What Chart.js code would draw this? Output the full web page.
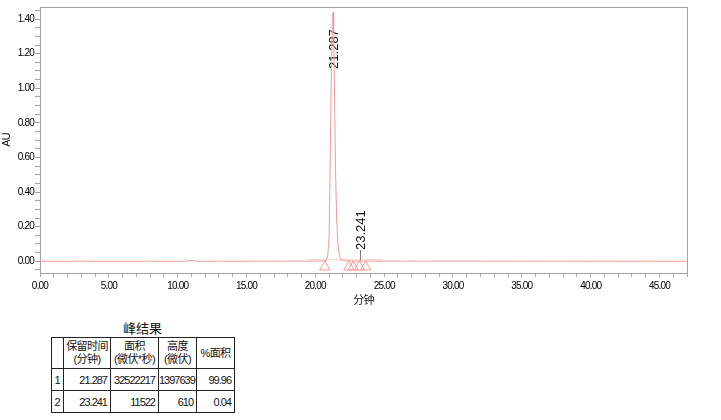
<!DOCTYPE html>
<html>
<head>
<meta charset="utf-8">
<script src="https://cdn.jsdelivr.net/npm/chart.js@4.4.1/dist/chart.umd.min.js"></script>
<style>
  body { margin: 0; background: #fff; }
  #wrap { position: relative; width: 721px; height: 420px; overflow: hidden; }
  #c { position: absolute; left: 0; top: 0; }
  #tblTitle {
    position: absolute; left: 51px; top: 321px; width: 183px; text-align: center;
    font: 13px 'Liberation Sans', 'Noto Sans CJK SC', sans-serif; line-height: 16px; color: #111;
  }
  #peaks {
    position: absolute; left: 51px; top: 337px; width: 183px; border-collapse: collapse; table-layout: fixed;
    font: 11px 'Liberation Sans', 'Noto Sans CJK SC', sans-serif; color: #111; letter-spacing: -1px;
  }
  #peaks td { border: 1px solid #222; padding: 0 3px 0 0; text-align: right; white-space: nowrap; overflow: hidden; }
  #peaks tr.head td { text-align: center; padding: 0; line-height: 13px; height: 30px; letter-spacing: -0.6px; }
  #peaks tr.row td { height: 21px; }
  #peaks td.no { text-align: center; padding: 0; letter-spacing: 0; }
</style>
</head>
<body>
<div id="wrap">
  <canvas id="c" width="721" height="320"></canvas>
  <div id="tblTitle">峰结果</div>
  <table id="peaks"></table>
</div>
<script>
// chromatogram trace (minutes / AU)
const traceTime = [0, 2.8, 2.9, 3.0, 7.7, 7.8, 7.9, 10.6, 10.75, 10.9, 11.05, 11.2, 11.3, 12.9, 13.0, 13.1,
  20.5, 20.8, 20.9, 21.0, 21.08, 21.16, 21.24, 21.287, 21.33, 21.4, 21.47, 21.55, 21.63, 21.7, 21.8, 21.9,
  22.2, 23.1, 23.241, 23.4, 47];
const traceAU = [0, 0, 0.004, 0, 0, 0.002, 0, 0, 0.004, 0.003, 0.004, 0.003, 0, 0, 0.002, 0,
  0.001, 0.004, 0.03, 0.14, 0.55, 1.08, 1.40, 1.435, 1.36, 0.95, 0.52, 0.24, 0.12, 0.06, 0.02, 0.006,
  0.002, 0.001, 0.003, 0.001, 0];

// faint integration baseline near the peaks
const baseTime = [19.5, 24.9];
const baseAU = [0.009, 0.009];

// peak start / end markers
const markTime = [20.7, 22.45, 22.76, 23.2, 23.65];
const markAU = [-0.033, -0.033, -0.033, -0.033, -0.033];

// peak labels
const peakTime = [21.287, 23.241];
const labelAU = [1.112, 0.065];      // where the rotated text starts
const stemFrom = [1.34, 0.0];
const stemTo = [1.44, 0.065];

// peak result table
const peakNo = [1, 2];
const peakArea = [32522217, 11522];
const peakHeight = [1397639, 610];
const peakPct = [99.96, 0.04];
const tableHead = ['', '保留时间<br>(分钟)', '面积<br>(微伏*秒)', '高度<br>(微伏)', '%面积'];
const colWidths = [12, 47, 48, 38, 38];

const FONT = "'Liberation Sans', Arial, 'Noto Sans CJK SC', sans-serif";
const PINK = '#f49a9a';
const FRAME = '#a3a3a3';

const xTicks = [];
for (let i = 0; i <= 47; i++) xTicks.push(i);
const yTicks = [];
for (let i = -1; i <= 29; i++) yTicks.push(Math.round(i * 5) / 100);

const toXY = (xs, ys) => xs.map((v, i) => ({ x: v, y: ys[i] }));

const peakLabels = {
  id: 'peakLabels',
  beforeDraw(chart) {
    // the original axis labels are set tight
    chart.ctx.letterSpacing = '-0.8px';
  },
  beforeDatasetsDraw(chart) {
    const { ctx, scales: { x, y } } = chart;
    ctx.save();
    ctx.letterSpacing = '0px';
    ctx.strokeStyle = '#777';
    ctx.lineWidth = 1;
    ctx.fillStyle = '#111';
    ctx.font = "13px 'Liberation Sans', Arial, sans-serif";
    ctx.textAlign = 'left';
    ctx.textBaseline = 'middle';
    peakTime.forEach((t, i) => {
      const px = Math.round(x.getPixelForValue(t)) + 0.5;
      ctx.beginPath();
      ctx.moveTo(px, y.getPixelForValue(stemFrom[i]));
      ctx.lineTo(px, y.getPixelForValue(stemTo[i]));
      ctx.stroke();
      ctx.save();
      ctx.translate(px + 1, y.getPixelForValue(labelAU[i]));
      ctx.rotate(-Math.PI / 2);
      ctx.fillText(t.toFixed(3), 0, 0);
      ctx.restore();
    });
    ctx.restore();
  },
  afterDraw(chart) {
    const { ctx, chartArea: a } = chart;
    ctx.save();
    ctx.strokeStyle = FRAME;
    ctx.lineWidth = 1;
    ctx.strokeRect(Math.round(a.left) + 0.5, Math.round(a.top) + 0.5,
      Math.round(a.right - a.left), Math.round(a.bottom - a.top));
    ctx.restore();
  }
};

new Chart(document.getElementById('c'), {
  type: 'scatter',
  data: {
    datasets: [
      {
        data: toXY(baseTime, baseAU),
        showLine: true, borderColor: 'rgba(244,154,154,0.45)', borderWidth: 1, pointRadius: 0
      },
      {
        data: toXY(traceTime, traceAU),
        showLine: true, borderColor: PINK, borderWidth: 1, pointRadius: 0, tension: 0
      },
      {
        data: toXY(markTime, markAU),
        showLine: false, pointStyle: 'triangle', pointRadius: 6,
        pointBorderColor: PINK, pointBackgroundColor: 'rgba(255,255,255,0)', pointBorderWidth: 1
      }
    ]
  },
  options: {
    responsive: false,
    animation: false,
    layout: { padding: { left: 0, top: 4, right: 34, bottom: 0 } },
    plugins: { legend: { display: false }, tooltip: { enabled: false } },
    scales: {
      x: {
        type: 'linear', min: 0, max: 47,
        afterBuildTicks: (s) => { s.ticks = xTicks.map(v => ({ value: v })); },
        afterFit: (s) => { s.height = 47; },
        ticks: {
          autoSkip: false, maxRotation: 0, padding: 3, color: '#000',
          font: { family: FONT, size: 10 },
          callback: (v) => (v % 5 === 0 ? v.toFixed(2) : '')
        },
        grid: { drawOnChartArea: false, tickLength: 4, color: FRAME },
        border: { color: FRAME },
        title: {
          display: true, text: '分钟', color: '#111',
          font: { family: FONT, size: 11 }, padding: { top: 0, bottom: 12 }
        }
      },
      y: {
        type: 'linear', min: -0.068, max: 1.47,
        afterBuildTicks: (s) => { s.ticks = yTicks.map(v => ({ value: v })); },
        afterFit: (s) => { s.width = 40; },
        ticks: {
          autoSkip: false, padding: 1, color: '#000',
          font: { family: FONT, size: 10 },
          callback: (v) => (Math.abs(Math.round(v * 100) % 20) === 0 ? v.toFixed(2) : '')
        },
        grid: { drawOnChartArea: false, tickLength: 5, color: FRAME },
        border: { color: FRAME },
        title: {
          display: true, text: 'AU', color: '#111',
          font: { family: FONT, size: 11 }, padding: 0
        }
      }
    }
  },
  plugins: [peakLabels]
});

// result table
const tbl = document.getElementById('peaks');
let html = '<colgroup>' + colWidths.map(w => `<col style="width:${w}px">`).join('') + '</colgroup>';
html += '<tr class="head">' + tableHead.map(h => `<td>${h}</td>`).join('') + '</tr>';
peakNo.forEach((n, i) => {
  html += `<tr class="row"><td class="no">${n}</td><td>${peakTime[i].toFixed(3)}</td><td>${peakArea[i]}</td>` +
    `<td>${peakHeight[i]}</td><td>${peakPct[i].toFixed(2)}</td></tr>`;
});
tbl.innerHTML = html;
</script>
</body>
</html>
